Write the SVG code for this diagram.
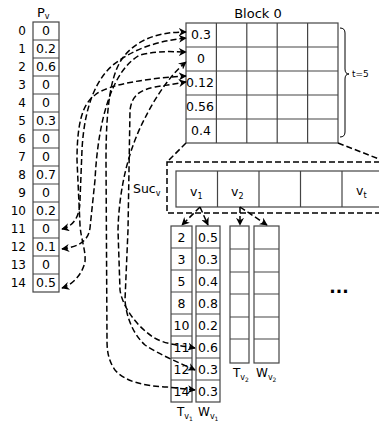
<svg xmlns="http://www.w3.org/2000/svg" width="379" height="425" viewBox="0 0 379 425">
<defs>
<marker id="ah" viewBox="0 0 10 10" refX="9" refY="5" markerWidth="8" markerHeight="8" orient="auto-start-reverse" markerUnits="userSpaceOnUse"><path d="M0,0 L10,5 L0,10 L3,5 z" fill="#000"/></marker>
<style>
text{font-family:"DejaVu Sans",Verdana,sans-serif;fill:#000}
.v{font-size:12.5px;text-anchor:middle}
.lb{font-size:12px;text-anchor:end}
.cell{fill:#fff;stroke:#444;stroke-width:1.2}
.ln{stroke:#444;stroke-width:1.2;fill:none}
.dash{fill:none;stroke:#000;stroke-width:1.5;stroke-dasharray:6,3}
.arr{marker-end:url(#ah)}
.both{marker-start:url(#ah);marker-end:url(#ah)}
</style>
</defs>
<rect width="379" height="425" fill="#fff"/>

<g id="pv">
<text x="37" y="17" font-size="13">P<tspan font-size="8" dy="2">v</tspan></text>
<rect class="cell" x="33" y="22" width="26" height="270"/>
<path class="ln" d="M33,40H59M33,58H59M33,76H59M33,94H59M33,112H59M33,130H59M33,148H59M33,166H59M33,184H59M33,202H59M33,220H59M33,238H59M33,256H59M33,274H59"/>
<g class="lb">
<text x="26" y="35">0</text><text x="26" y="53">1</text><text x="26" y="71">2</text><text x="26" y="89">3</text><text x="26" y="107">4</text><text x="26" y="125">5</text><text x="26" y="143">6</text><text x="26" y="161">7</text><text x="26" y="179">8</text><text x="26" y="197">9</text><text x="26" y="215">10</text><text x="26" y="233">11</text><text x="26" y="251">12</text><text x="26" y="269">13</text><text x="26" y="287">14</text>
</g>
<g class="v">
<text x="46" y="35">0</text><text x="46" y="53">0.2</text><text x="46" y="71">0.6</text><text x="46" y="89">0</text><text x="46" y="107">0</text><text x="46" y="125">0.3</text><text x="46" y="143">0</text><text x="46" y="161">0</text><text x="46" y="179">0.7</text><text x="46" y="197">0</text><text x="46" y="215">0.2</text><text x="46" y="233">0</text><text x="46" y="251">0.1</text><text x="46" y="269">0</text><text x="46" y="287">0.5</text>
</g>
</g>

<g id="block0">
<text x="258" y="18" font-size="13" text-anchor="middle">Block 0</text>
<rect class="cell" x="186" y="23" width="152" height="120"/>
<path class="ln" d="M186,47H338M186,71H338M186,95H338M186,119H338M216.4,23V143M246.8,23V143M277.2,23V143M307.6,23V143"/>
<g class="v">
<text x="201" y="39">0.3</text><text x="201" y="63">0</text><text x="200" y="87">0.12</text><text x="200" y="111">0.56</text><text x="201" y="135">0.4</text>
</g>
<path d="M340,28 Q345,28 345,33 V69 Q345,74 349,74 Q345,74 345,79 V132 Q345,137 340,137" fill="none" stroke="#000" stroke-width="1"/>
<text x="352" y="77" font-size="9">t=5</text>
</g>

<g id="sucv">
<rect x="167" y="162" width="230" height="51" class="dash" stroke-width="1.6"/>
<text x="133" y="193" font-size="12.5">Suc<tspan font-size="8" dy="3">v</tspan></text>
<rect class="cell" x="176" y="171" width="215" height="36"/>
<path class="ln" d="M217.5,171V207M259,171V207M300.5,171V207M342,171V207"/>
<text x="190" y="196" font-size="12.5">v<tspan font-size="8" dy="3">1</tspan></text>
<text x="231" y="196" font-size="12.5">v<tspan font-size="8" dy="3">2</tspan></text>
<text x="356" y="195" font-size="12.5">v<tspan font-size="8" dy="3">t</tspan></text>
</g>

<g id="tv1">
<rect class="cell" x="171" y="226" width="21" height="176"/>
<path class="ln" d="M171,248H192M171,270H192M171,292H192M171,314H192M171,336H192M171,358H192M171,380H192"/>
<g class="v">
<text x="181.5" y="242">2</text><text x="181.5" y="264">3</text><text x="181.5" y="286">5</text><text x="181.5" y="308">8</text><text x="181.5" y="330">10</text><text x="181.5" y="352">11</text><text x="181.5" y="374">12</text><text x="181.5" y="396">14</text>
</g>
<text x="177" y="416" font-size="12">T<tspan font-size="8" dy="3">v</tspan><tspan font-size="6" dy="2">1</tspan></text>
</g>

<g id="wv1">
<rect class="cell" x="196" y="226" width="24" height="176"/>
<path class="ln" d="M196,248H220M196,270H220M196,292H220M196,314H220M196,336H220M196,358H220M196,380H220"/>
<g class="v">
<text x="208" y="242">0.5</text><text x="208" y="264">0.3</text><text x="208" y="286">0.4</text><text x="208" y="308">0.8</text><text x="208" y="330">0.2</text><text x="208" y="352">0.6</text><text x="208" y="374">0.3</text><text x="208" y="396">0.3</text>
</g>
<text x="198" y="416" font-size="12">W<tspan font-size="8" dy="3">v</tspan><tspan font-size="6" dy="2">1</tspan></text>
</g>

<g id="tv2">
<rect class="cell" x="230" y="226" width="19" height="137"/>
<path class="ln" d="M230,249H249M230,272H249M230,294H249M230,317H249M230,339H249"/>
<text x="233" y="377" font-size="12">T<tspan font-size="8" dy="3">v</tspan><tspan font-size="6" dy="2">2</tspan></text>
</g>

<g id="wv2">
<rect class="cell" x="254" y="226" width="25" height="137"/>
<path class="ln" d="M254,249H279M254,272H279M254,294H279M254,317H279M254,339H279"/>
<text x="256" y="377" font-size="12">W<tspan font-size="8" dy="3">v</tspan><tspan font-size="6" dy="2">2</tspan></text>
</g>

<g id="ellipsis">
<text x="339" y="293" font-size="17" font-weight="bold" text-anchor="middle">...</text>
</g>

<g id="connectors">
<path class="dash" d="M186,143 L167,162"/>
<path class="dash" d="M338,143 L379,159"/>
<path class="dash arr" d="M200,207 L182,225"/>
<path class="dash arr" d="M200,207 L208,225"/>
<path class="dash arr" d="M240,207 L240,225"/>
<path class="dash arr" d="M240,207 L267,225"/>
<path class="dash both" d="M62,229 C74,226 80,216 80,200 L82,150 C84,110 95,75 120,60 C140,46 165,40 186,38"/>
<path class="dash both" d="M62,249 C76,247 88,243 90,228 L95,180 C98,120 112,70 140,55 C160,50 175,52 186,52"/>
<path class="dash both" d="M62,288 C72,285 82,275 85,262 C86,250 81,240 80,225 L77,160 C77,125 82,104 95,95 C108,84 150,78 186,76"/>
<path class="dash both" d="M195,348 C185,346 165,345 153,337 C135,325 122,305 120,290 L118,230 C119,190 128,150 145,118 C155,98 170,75 186,62"/>
<path class="dash both" d="M195,370 C180,363 160,355 145,345 C132,333 126,315 125,300 L128,230 L130,110 C132,95 140,90 155,87 L186,82"/>
<path class="dash both" d="M195,390 L167,387 C145,386 125,382 115,370 C108,360 107,350 107,340 L106,160 C106,100 112,70 125,55 C140,38 160,32 186,32"/>
</g>
</svg>
